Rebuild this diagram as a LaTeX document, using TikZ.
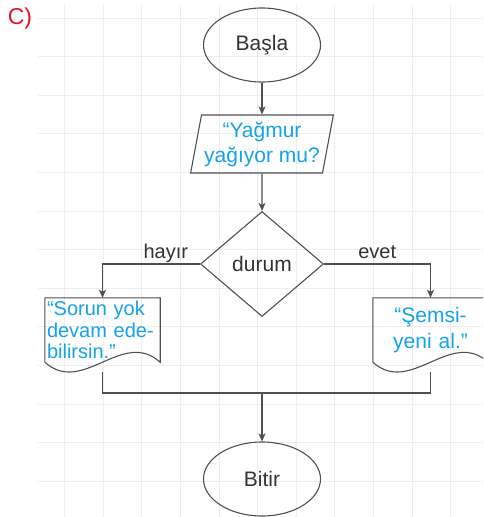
\documentclass[tikz,border=0pt]{standalone}
\usepackage{fontspec}
\setmainfont{Liberation Sans}
\usepackage{tikz}
\usetikzlibrary{arrows.meta,positioning,shapes.geometric,calc}
\usepackage{xcolor}
\definecolor{edge}{HTML}{505050}
\definecolor{txt}{HTML}{333333}
\definecolor{sky}{RGB}{20,163,230}
\definecolor{tagred}{RGB}{232,22,32}
\definecolor{gridc}{HTML}{EEEEEE}

% outline of a document box: flat top, wavy bottom
\newcommand{\docshape}[1]{%
  \draw[edge, line width=1.1pt] (#1.south west) -- (#1.north west) -- (#1.north east) -- (#1.south east)
    .. controls +(-38,-34) and +(38,34) .. (#1.south west);}

\begin{document}
\begin{tikzpicture}[x=1pt, y=-1pt, every node/.style={font=\fontsize{21}{25}\selectfont, text=txt}]
\tikzset{term/.style={draw=edge, line width=1.1pt, ellipse, minimum width=117pt, minimum height=74pt, inner sep=0pt}}
\tikzset{io/.style={draw=edge, line width=1.1pt, trapezium, trapezium left angle=77, trapezium right angle=103, trapezium stretches=true, minimum width=143pt, minimum height=58pt, inner sep=0pt, align=center, text=sky}}
\tikzset{decision/.style={draw=edge, line width=1.1pt, diamond, minimum width=123pt, minimum height=105pt, inner sep=0pt}}
\tikzset{docbox/.style={minimum width=115pt, minimum height=64pt, inner sep=2pt, text=sky}}
\tikzset{line/.style={edge, line width=1.1pt}}
\tikzset{arrow/.style={line, -{Stealth[length=8pt, width=7pt, inset=2pt]}}}
\tikzset{branch/.style={anchor=base, yshift=6pt, font=\fontsize{20}{24}\selectfont}}
\clip (0,0) rectangle (483,517);
% grid
\foreach \gx in {0,...,10} \draw[gridc, line width=0.8pt] (64.5+38.6*\gx,5) -- (64.5+38.6*\gx,517);
\foreach \gy in {0,...,13} \draw[gridc, line width=0.8pt] (38,18+38.6*\gy) -- (483,18+38.6*\gy);
\node[text=tagred, font=\fontsize{23}{27}\selectfont] (tag) at (20,19) {C)};
\node[term] (start) at (262,45) {Başla};
\node[io] (ask) at (262,144) {“Yağmur\\yağıyor mu?};
\node[decision] (cond) at (262,264) {durum};
\node[docbox, text width=111pt, align=left, font=\fontsize{20}{21.5}\selectfont] (nodoc) at (102.5,330) {“Sorun yok\\devam ede-\\bilirsin.”};
\node[docbox, text width=111pt, align=center, font=\fontsize{21}{26}\selectfont] (yesdoc) at (430.5,330) {“Şemsi-\\yeni al.”};
\docshape{nodoc}
\docshape{yesdoc}
\coordinate (merge) at (262,393);
\node[term] (stop) at (262,479) {Bitir};
\draw[arrow] (start) -- (ask);
\draw[arrow] (ask) -- (cond);
\draw[arrow] (cond.west) -| node[branch, pos=0.175] {hayır} (nodoc.north);
\draw[arrow] (cond.east) -| node[branch, pos=0.25] {evet} (yesdoc.north);
\draw[line] ([yshift=-10pt]nodoc.south) |- (merge) -| ([yshift=-10pt]yesdoc.south);
\draw[arrow] (merge) -- (stop);
\end{tikzpicture}
\end{document}
